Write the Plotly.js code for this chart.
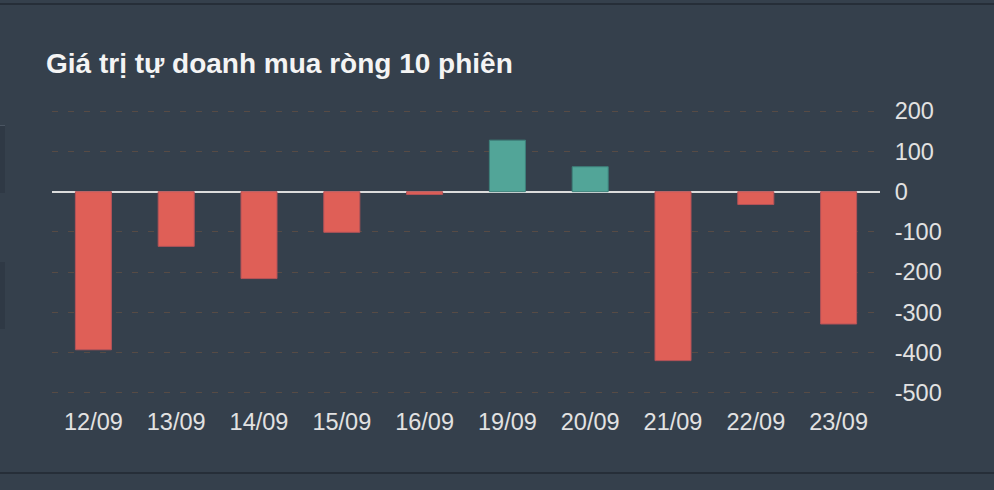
<!DOCTYPE html>
<html>
<head>
<meta charset="utf-8">
<script src="https://cdn.plot.ly/plotly-3.0.1.min.js"></script>
<style>
  html, body { margin: 0; padding: 0; background: #35404c; }
  #chart { width: 994px; height: 490px; }
  .edge { position: absolute; left: 0; width: 994px; height: 2px; background: #262e38; }
  .side { position: absolute; left: 0; width: 5px; background: #2f3945; }
</style>
</head>
<body>
<div id="chart"></div>
<div class="edge" style="top:3px"></div>
<div class="edge" style="top:472px"></div>
<div class="side" style="top:125px;height:67px;border-top:1px solid #4a5562"></div>
<div class="side" style="top:262px;height:67px"></div>
<script>
const sessions = ['12/09', '13/09', '14/09', '15/09', '16/09', '19/09', '20/09', '21/09', '22/09', '23/09'];
const netValues = [-393, -136, -216, -101, -7, 128, 62, -420, -32, -329];
const yTicks = [200, 100, 0, -100, -200, -300, -400, -500];

const fill = netValues.map(v => v >= 0 ? '#52a598' : '#df5f57');
const edge = netValues.map(v => v >= 0 ? '#3e807a' : '#b45358');

Plotly.newPlot('chart', [{
  x: sessions,
  y: netValues,
  type: 'bar',
  marker: { color: fill, line: { color: edge, width: 1 } },
  hoverinfo: 'x+y'
}], {
  width: 994,
  height: 490,
  paper_bgcolor: '#35404c',
  plot_bgcolor: '#35404c',
  margin: { l: 52, r: 114, t: 110, b: 96 },
  bargap: 0.565,
  showlegend: false,
  font: { family: 'Liberation Sans, Arial, sans-serif', color: '#e2e2e2', size: 23.5 },
  title: {
    text: '<b>Giá trị tự doanh mua ròng 10 phiên</b>',
    font: { size: 28, color: '#f4f4f4', family: 'Liberation Sans, Arial, sans-serif' },
    xref: 'container', yref: 'container',
    x: 46 / 994, xanchor: 'left',
    y: 1 - 63 / 490, yanchor: 'middle'
  },
  xaxis: {
    type: 'category',
    showgrid: false,
    showline: false,
    zeroline: false,
    ticks: 'outside', ticklen: 7, tickcolor: 'rgba(0,0,0,0)',
    tickfont: { size: 23.5, color: '#e2e2e2' },
    fixedrange: true
  },
  yaxis: {
    side: 'right',
    range: [-503, 203],
    tickvals: yTicks,
    ticktext: yTicks.map(String),
    showgrid: true,
    gridcolor: '#574b45',
    griddash: '6px,10px',
    gridwidth: 1,
    zeroline: true,
    zerolinecolor: '#dcdcdc',
    zerolinewidth: 2,
    showline: false,
    ticks: 'outside', ticklen: 9, tickcolor: 'rgba(0,0,0,0)',
    tickfont: { size: 23.5, color: '#e2e2e2' },
    fixedrange: true
  }
}, { displayModeBar: false, staticPlot: true });
</script>
</body>
</html>
